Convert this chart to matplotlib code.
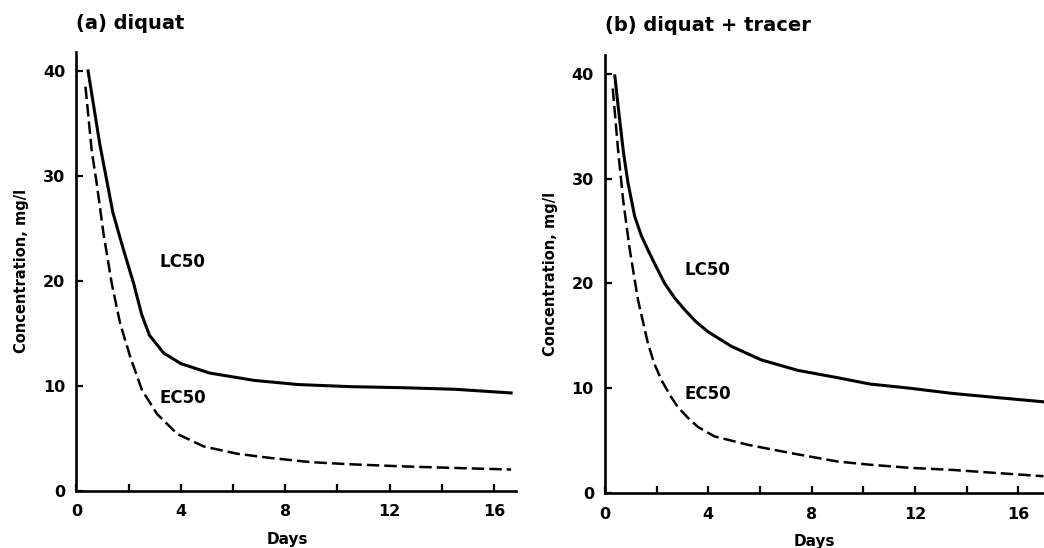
import numpy as np
import matplotlib
matplotlib.use("Agg")
import matplotlib.pyplot as plt
from matplotlib.ticker import MultipleLocator

# Datos
# (a) diquat
dias_lc_a = [0.45, 0.9, 1.4, 1.8, 2.2, 2.5, 2.8, 3.35, 4.0, 5.1, 6.8, 8.5, 10.5, 12.5, 14.5, 16.65]
lc50_a = [40.0, 33.0, 26.5, 23.0, 19.7, 16.8, 14.8, 13.1, 12.1, 11.2, 10.5, 10.1, 9.9, 9.8, 9.65, 9.3]
dias_ec_a = [0.35, 0.59, 0.78, 1.04, 1.36, 1.68, 2.07, 2.51, 3.09, 3.86, 4.88, 6.17, 7.45, 9.0, 10.5, 12.5, 14.5, 16.65]
ec50_a = [38.5, 32.4, 29.3, 24.5, 19.7, 15.9, 12.7, 9.6, 7.3, 5.4, 4.2, 3.5, 3.1, 2.7, 2.5, 2.3, 2.15, 2.0]

# (b) diquat + tracer
dias_lc_b = [0.38, 0.55, 0.72, 0.89, 1.15, 1.4, 1.66, 2.0, 2.31, 2.7, 3.08, 3.5, 3.98, 4.89, 6.05, 7.47, 9.01, 10.25, 11.8, 13.46, 15.2, 16.98]
lc50_b = [39.8, 36.0, 32.4, 29.6, 26.4, 24.6, 23.2, 21.5, 20.0, 18.6, 17.5, 16.4, 15.4, 14.0, 12.7, 11.7, 11.0, 10.4, 10.0, 9.5, 9.1, 8.7]
dias_ec_b = [0.30, 0.5, 0.7, 0.96, 1.28, 1.66, 1.9, 2.18, 2.5, 2.82, 3.2, 3.6, 4.24, 5.53, 7.21, 9.01, 10.25, 11.8, 13.46, 15.2, 16.98]
ec50_b = [38.6, 32.9, 28.0, 23.2, 18.4, 14.3, 12.4, 10.8, 9.4, 8.2, 7.2, 6.3, 5.4, 4.6, 3.8, 3.0, 2.7, 2.4, 2.2, 1.9, 1.6]

paneles = [
    {"titulo": "(a) diquat", "pos": [0.0731, 0.1049, 0.4215, 0.8002], "xmax": 16.85,
     "lc": (dias_lc_a, lc50_a), "ec": (dias_ec_a, ec50_a),
     "lc_txt": (3.2, 21.8), "ec_txt": (3.18, 8.8)},
    {"titulo": "(b) diquat + tracer", "pos": [0.5795, 0.1004, 0.4205, 0.7993], "xmax": 17.0,
     "lc": (dias_lc_b, lc50_b), "ec": (dias_ec_b, ec50_b),
     "lc_txt": (3.06, 21.3), "ec_txt": (3.06, 9.4)},
]

plt.rcParams["font.family"] = "DejaVu Sans"
plt.rcParams["font.weight"] = "bold"

fig = plt.figure(figsize=(10.44, 5.48), dpi=100)

for p in paneles:
    ax = fig.add_axes(p["pos"])
    ax.plot(*p["lc"], color="black", linewidth=2.2, solid_joinstyle="round", clip_on=False)
    ax.plot(*p["ec"], color="black", linewidth=1.8, dashes=(5, 2), clip_on=False)

    ax.set_xlim(0, p["xmax"])
    ax.set_ylim(0, 41.8)
    ax.spines["top"].set_visible(False)
    ax.spines["right"].set_visible(False)
    for s in ["left", "bottom"]:
        ax.spines[s].set_linewidth(1.9)

    ax.xaxis.set_major_locator(MultipleLocator(4))
    ax.xaxis.set_minor_locator(MultipleLocator(2))
    ax.set_yticks([0, 10, 20, 30, 40])
    ax.tick_params(axis="x", which="both", direction="in", length=5, width=1.6, pad=10, labelsize=11.5)
    ax.tick_params(axis="y", which="both", direction="in", length=5, width=1.6, pad=8, labelsize=11.5)
    for lab in ax.get_xticklabels() + ax.get_yticklabels():
        lab.set_fontweight("bold")

    ax.set_xlabel("Days", fontsize=11, fontweight="bold")
    ax.xaxis.set_label_coords(8.1 / p["xmax"], -0.094)
    ax.set_ylabel("Concentration, mg/l", fontsize=10.5, fontweight="bold", va="center")
    ax.yaxis.set_label_coords(-0.124, 0.5)

    ax.text(p["lc_txt"][0], p["lc_txt"][1], "LC50", fontsize=12, fontweight="bold", va="center", ha="left")
    ax.text(p["ec_txt"][0], p["ec_txt"][1], "EC50", fontsize=12, fontweight="bold", va="center", ha="left")

    ax.text(0.0, 1.0 + (52 - 23) / 438.5, p["titulo"], transform=ax.transAxes,
            fontsize=14, fontweight="bold", ha="left", va="center")

fig.savefig("out.png", dpi=100)
